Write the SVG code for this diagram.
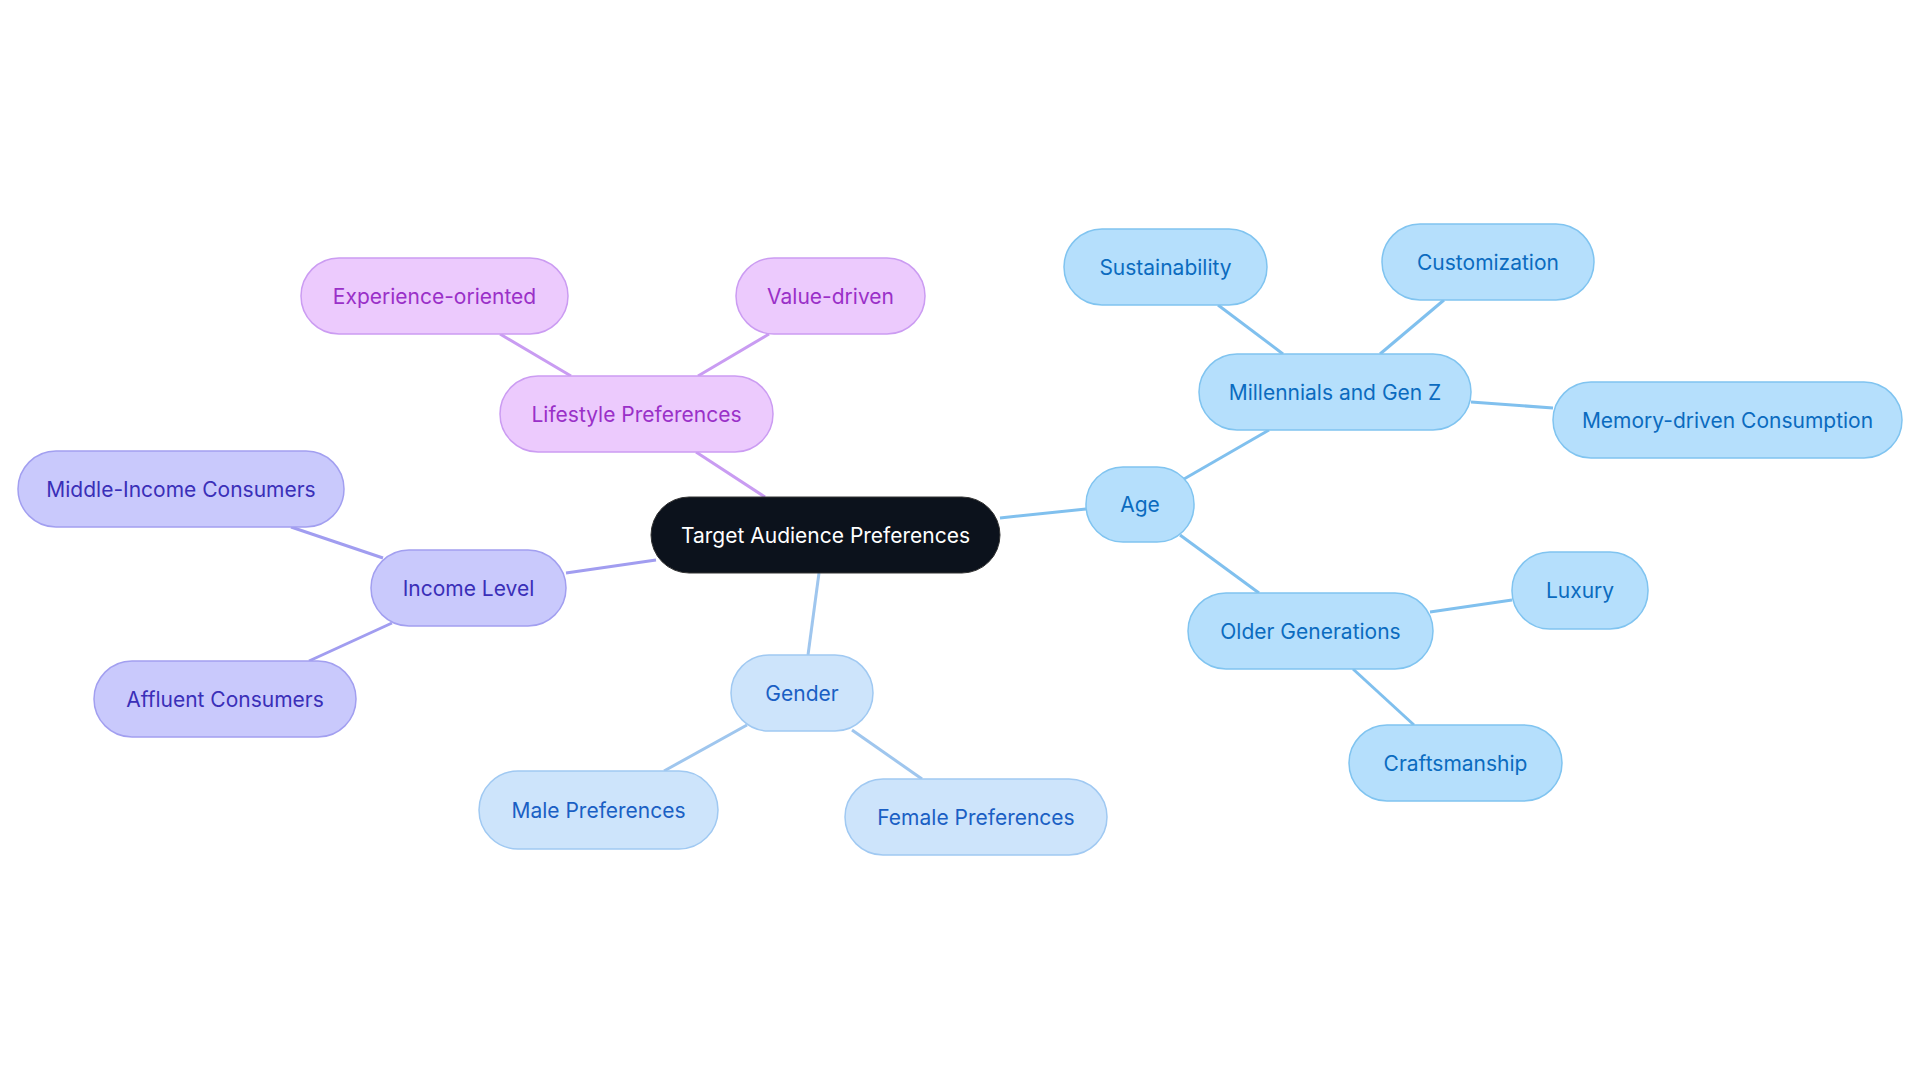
<svg xmlns="http://www.w3.org/2000/svg" width="1920" height="1083" viewBox="0 0 1920 1083">
<style>
text{font-family:Inter,"Noto Sans",sans-serif;font-size:21px;text-anchor:middle;dominant-baseline:central}
.a rect{fill:#b5dffc;stroke:#80c4f0;stroke-width:1.5}.a text{fill:#0b6bbf}
.g rect{fill:#cde4fb;stroke:#a0c9f2;stroke-width:1.5}.g text{fill:#1a5fc4}
.i rect{fill:#c9c9fc;stroke:#a29ff0;stroke-width:1.5}.i text{fill:#3a2fb8}
.l rect{fill:#eccafd;stroke:#cb9cf2;stroke-width:1.5}.l text{fill:#9a30c8}
#conn line{stroke-width:3}
.ea{stroke:#80c0ee}.eg{stroke:#9fc6ee}.ei{stroke:#a19df0}.el{stroke:#c99cf2}
</style>
<rect width="1920" height="1083" fill="#fff"/>
<g id="conn">
<line class="ea" x1="1000" y1="518" x2="1086" y2="509"/>
<line class="ea" x1="1184" y1="479" x2="1269" y2="430"/>
<line class="ea" x1="1283" y1="354" x2="1218" y2="305"/>
<line class="ea" x1="1380" y1="354" x2="1444" y2="300"/>
<line class="ea" x1="1471" y1="402" x2="1553" y2="408"/>
<line class="ea" x1="1180" y1="535" x2="1259" y2="593"/>
<line class="ea" x1="1430" y1="612" x2="1512" y2="600"/>
<line class="ea" x1="1353" y1="669" x2="1414" y2="725"/>
<line class="eg" x1="819" y1="573" x2="808" y2="655"/>
<line class="eg" x1="747" y1="725" x2="664" y2="771"/>
<line class="eg" x1="852" y1="730" x2="922" y2="779"/>
<line class="ei" x1="656" y1="560" x2="566" y2="573"/>
<line class="ei" x1="383" y1="558" x2="291" y2="527"/>
<line class="ei" x1="392" y1="623" x2="309" y2="661"/>
<line class="el" x1="765" y1="497" x2="696" y2="452"/>
<line class="el" x1="571" y1="376" x2="500" y2="334"/>
<line class="el" x1="698" y1="376" x2="769" y2="334"/>
</g>
<g id="center"><rect x="651" y="497" width="349" height="76" rx="38" fill="#0c121c" stroke="#333" stroke-width="1"/><text x="825.5" y="535" fill="#fff">Target Audience Preferences</text></g>
<g id="age" class="a"><rect x="1086" y="467" width="108" height="75" rx="37"/><text x="1140" y="504">Age</text></g>
<g id="mill" class="a"><rect x="1199" y="354" width="272" height="76" rx="38"/><text x="1335" y="392">Millennials and Gen Z</text></g>
<g id="sust" class="a"><rect x="1064" y="229" width="203" height="76" rx="38"/><text x="1165.5" y="267">Sustainability</text></g>
<g id="cust" class="a"><rect x="1382" y="224" width="212" height="76" rx="38"/><text x="1488" y="262">Customization</text></g>
<g id="mem" class="a"><rect x="1553" y="382" width="349" height="76" rx="38"/><text x="1727.5" y="420">Memory-driven Consumption</text></g>
<g id="old" class="a"><rect x="1188" y="593" width="245" height="76" rx="38"/><text x="1310.5" y="631">Older Generations</text></g>
<g id="lux" class="a"><rect x="1512" y="552" width="136" height="77" rx="38"/><text x="1580" y="590">Luxury</text></g>
<g id="craft" class="a"><rect x="1349" y="725" width="213" height="76" rx="38"/><text x="1455.5" y="763">Craftsmanship</text></g>
<g id="gender" class="g"><rect x="731" y="655" width="142" height="76" rx="38"/><text x="802" y="693">Gender</text></g>
<g id="male" class="g"><rect x="479" y="771" width="239" height="78" rx="39"/><text x="598.5" y="810">Male Preferences</text></g>
<g id="female" class="g"><rect x="845" y="779" width="262" height="76" rx="38"/><text x="976" y="817">Female Preferences</text></g>
<g id="income" class="i"><rect x="371" y="550" width="195" height="76" rx="38"/><text x="468.5" y="588">Income Level</text></g>
<g id="mid" class="i"><rect x="18" y="451" width="326" height="76" rx="38"/><text x="181" y="489">Middle-Income Consumers</text></g>
<g id="aff" class="i"><rect x="94" y="661" width="262" height="76" rx="38"/><text x="225" y="699">Affluent Consumers</text></g>
<g id="life" class="l"><rect x="500" y="376" width="273" height="76" rx="38"/><text x="636.5" y="414">Lifestyle Preferences</text></g>
<g id="exp" class="l"><rect x="301" y="258" width="267" height="76" rx="38"/><text x="434.5" y="296">Experience-oriented</text></g>
<g id="val" class="l"><rect x="736" y="258" width="189" height="76" rx="38"/><text x="830.5" y="296">Value-driven</text></g>
</svg>
